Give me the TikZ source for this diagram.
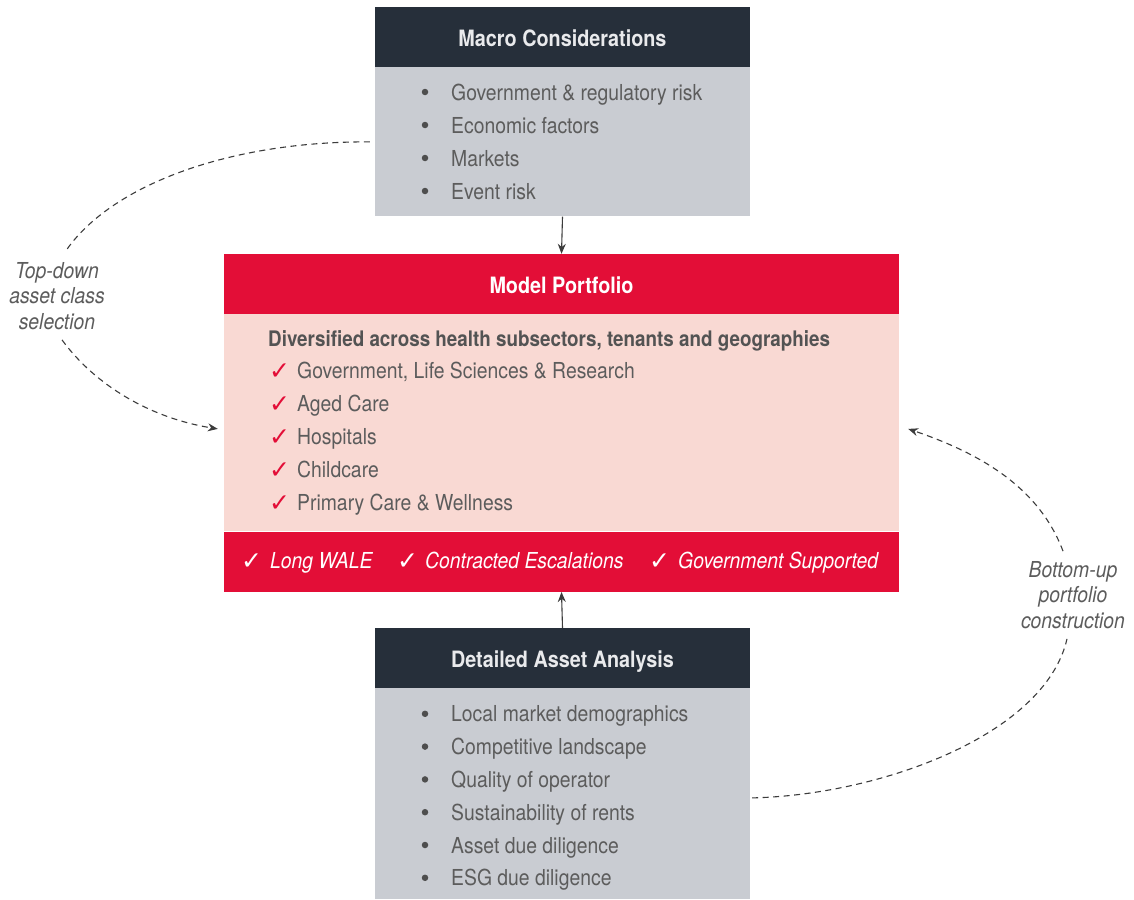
\documentclass[tikz,border=0pt]{standalone}
\usepackage{fontspec}
\setmainfont{TeX Gyre Heros}[FakeStretch=0.88]
\newfontfamily\checkfont{DejaVu Sans}
\usetikzlibrary{arrows.meta}

\definecolor{navy}{HTML}{262F3A}
\definecolor{boxgrey}{HTML}{C9CCD2}
\definecolor{portred}{HTML}{E30E37}
\definecolor{portpink}{HTML}{F9D9D3}
\definecolor{txtgrey}{HTML}{5C5C5C}
\definecolor{hdrwhite}{HTML}{E9EAEC}
\definecolor{linegrey}{HTML}{3C3C3C}

\begin{document}
\begin{tikzpicture}[x=1pt,y=-1pt,
    font=\fontsize{22}{25.5}\selectfont,
    panel/.style={inner sep=0pt,minimum width=#1},
    hdrbox/.style={panel=375pt,minimum height=60pt,fill=navy,text=hdrwhite,
      text height=19pt,text depth=0pt,font=\fontsize{22.5}{25}\selectfont\bfseries},
    listitem/.style={anchor=base west,inner sep=0pt,text=txtgrey},
    bulletdot/.style={circle,fill=txtgrey!85!black,inner sep=0pt,minimum size=6.5pt},
    checkmk/.style={anchor=base west,inner sep=0pt,text=portred,font=\fontsize{25}{25}\checkfont\bfseries},
    flow/.style={-{Stealth[length=10pt,width=8pt]},line width=1.1pt,draw=linegrey},
    dashflow/.style={flow,dash pattern=on 6pt off 4.5pt},
    aside/.style={align=center,text=txtgrey,inner sep=10pt,font=\fontsize{22}{25.5}\selectfont\itshape}]

  \useasboundingbox (0,0) rectangle (1134,899);

  \node[hdrbox] (mhead) at (562.5,37) {Macro Considerations};
  \node[panel=375pt,minimum height=149pt,fill=boxgrey,anchor=north] (mbody) at (mhead.south) {};
  \foreach \txt [count=\i] in {Government \& regulatory risk,Economic factors,Markets,Event risk}{
    \node[bulletdot] (mdot\i) at (425,{59+33*\i}) {};
    \node[listitem] (mitem\i) at (451,{67+33*\i}) {\txt};
  }

  \node[panel=675pt,minimum height=60pt,fill=portred,text=white,text height=19pt,text depth=0pt,
    font=\fontsize{22.5}{25}\selectfont\bfseries] (phead) at (561.5,284) {Model Portfolio};
  \node[panel=675pt,minimum height=217pt,fill=portpink,anchor=north] (pbody) at (phead.south) {};
  \node[panel=675pt,minimum height=60pt,fill=portred,anchor=north] (pbar) at (pbody.south) {};
  \node[listitem,text=txtgrey!90!black,font=\fontsize{21.4}{25}\selectfont\bfseries] (pintro) at (268,346) {Diversified across health subsectors, tenants and geographies};
  \foreach \txt [count=\i] in {{Government, Life Sciences \& Research},Aged Care,Hospitals,Childcare,Primary Care \& Wellness}{
    \node[checkmk] (pcheck\i) at (269,{346+33*\i}) {✓};
    \node[listitem] (pitem\i) at (297,{345+33*\i}) {\txt};
  }
  \foreach \cx/\tx/\txt [count=\i] in {241/270/Long WALE,397/425/Contracted Escalations,649/678/Government Supported}{
    \node[checkmk,text=white,font=\fontsize{25}{25}\checkfont] (bcheck\i) at (\cx,569) {✓};
    \node[listitem,text=white,font=\fontsize{22}{25}\selectfont\itshape] (bitem\i) at (\tx,568) {\txt};
  }

  \node[hdrbox] (dhead) at (562.5,658) {Detailed Asset Analysis};
  \node[panel=375pt,minimum height=211pt,fill=boxgrey,anchor=north] (dbody) at (dhead.south) {};
  \foreach \txt [count=\i] in {Local market demographics,Competitive landscape,Quality of operator,Sustainability of rents,Asset due diligence,ESG due diligence}{
    \node[bulletdot] (ddot\i) at (425,{681+32.8*\i}) {};
    \node[listitem] (ditem\i) at (451,{689+32.8*\i}) {\txt};
  }

  \draw[flow] (mbody.south) -- (phead.north);
  \draw[flow] (dhead.north) -- (pbar.south);

  \node[aside] (topdown) at (57,296) {Top-down\\asset class\\selection};
  \node[aside] (bottomup) at (1073,595) {Bottom-up\\portfolio\\construction};

  \draw[dashflow,-] ([xshift=-5pt]mbody.west) .. controls (230,141) and (110,185) .. ([xshift=8pt]topdown.north);
  \draw[dashflow] ([xshift=5pt]topdown.south) .. controls (95,385) and (150,418) .. ([xshift=-6pt,yshift=-6pt]pbody.west);
  \draw[dashflow,-] ([xshift=2pt,yshift=-4pt]dbody.east) .. controls (880,795) and (1045,735) .. ([xshift=-6pt]bottomup.south);
  \draw[dashflow] ([xshift=-10pt]bottomup.north) .. controls (1040,490) and (985,455) .. ([xshift=9pt,yshift=-6pt]pbody.east);
\end{tikzpicture}
\end{document}
